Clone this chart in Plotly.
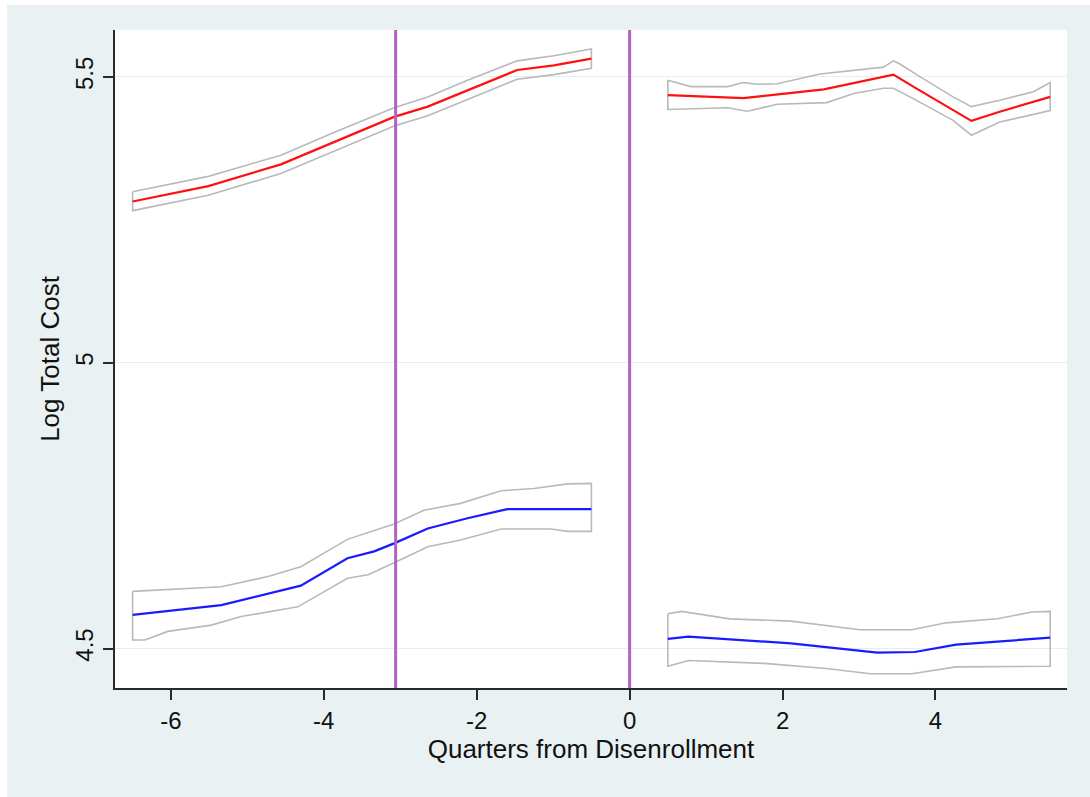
import plotly.graph_objects as go

# Smoothed log total cost by quarter, before and after disenrollment
# Group A (higher cost, red) and group B (lower cost, blue)

# --- Group A, pre-period ---
a_pre_x = [-6.5, -5.51, -4.56, -3.86, -3.08, -2.64, -2.12, -1.47, -0.99, -0.5]
a_pre_y = [5.282, 5.309, 5.347, 5.386, 5.430, 5.448, 5.477, 5.512, 5.520, 5.532]
a_pre_hi_y = [5.299, 5.326, 5.363, 5.403, 5.446, 5.465, 5.494, 5.528, 5.537, 5.549]
a_pre_lo_y = [5.266, 5.293, 5.331, 5.370, 5.414, 5.432, 5.461, 5.496, 5.504, 5.515]

# --- Group A, post-period ---
a_post_x = [0.5, 1.49, 2.54, 3.45, 3.71, 4.23, 4.47, 4.84, 5.5]
a_post_y = [5.468, 5.463, 5.478, 5.504, 5.483, 5.442, 5.423, 5.439, 5.465]
a_post_hi_x = [0.5, 0.80, 1.28, 1.49, 1.67, 1.93, 2.49, 3.02, 3.32, 3.45, 3.54, 3.80,
               4.23, 4.47, 4.84, 5.28, 5.5]
a_post_hi_y = [5.494, 5.483, 5.483, 5.490, 5.487, 5.488, 5.505, 5.512, 5.517, 5.528,
               5.522, 5.500, 5.465, 5.448, 5.459, 5.474, 5.490]
a_post_lo_x = [0.5, 1.28, 1.54, 1.93, 2.58, 2.93, 3.32, 3.45, 3.71, 4.23, 4.47, 4.84, 5.5]
a_post_lo_y = [5.443, 5.446, 5.440, 5.452, 5.455, 5.471, 5.480, 5.480, 5.462, 5.424,
               5.398, 5.421, 5.441]

# --- Group B, pre-period ---
b_pre_x = [-6.5, -5.34, -4.30, -3.69, -3.34, -3.08, -2.64, -2.12, -1.60, -0.5]
b_pre_y = [4.559, 4.576, 4.610, 4.658, 4.670, 4.684, 4.710, 4.728, 4.744, 4.744]
b_pre_hi_x = [-6.5, -6.04, -5.34, -4.73, -4.30, -3.69, -3.08, -2.69, -2.21, -1.68,
              -1.25, -0.81, -0.5]
b_pre_hi_y = [4.600, 4.603, 4.608, 4.626, 4.643, 4.691, 4.718, 4.742, 4.754, 4.776,
              4.780, 4.788, 4.789]
b_pre_lo_x = [-6.5, -6.34, -6.04, -5.47, -5.08, -4.34, -3.69, -3.42, -3.08, -2.64,
              -2.21, -1.68, -1.03, -0.81, -0.5]
b_pre_lo_y = [4.515, 4.515, 4.530, 4.541, 4.556, 4.573, 4.623, 4.629, 4.650, 4.678,
              4.690, 4.709, 4.709, 4.705, 4.705]

# --- Group B, post-period ---
b_post_x = [0.5, 0.77, 2.11, 3.24, 3.73, 4.27, 5.5]
b_post_y = [4.517, 4.521, 4.509, 4.493, 4.494, 4.507, 4.519]
b_post_hi_x = [0.5, 0.68, 1.31, 2.11, 3.01, 3.69, 4.14, 4.81, 5.26, 5.5]
b_post_hi_y = [4.561, 4.565, 4.552, 4.548, 4.533, 4.533, 4.545, 4.552, 4.564, 4.565]
b_post_lo_x = [0.5, 0.77, 1.76, 2.57, 3.15, 3.69, 4.27, 4.95, 5.5]
b_post_lo_y = [4.469, 4.479, 4.474, 4.465, 4.456, 4.456, 4.468, 4.469, 4.469]

# Reference lines (quarters)
vlines = [-3.06, 0]

x_ticks = [-6, -4, -2, 0, 2, 4]
y_ticks = [4.5, 5, 5.5]

RED = "#ff1010"
BLUE = "#1a1aff"
CI_GRAY = "#b9b9b9"
PURPLE = "#b362c4"
BG = "#e9f1f3"
FONT = "Liberation Sans, Arial, sans-serif"

fig = go.Figure()


def band(hx, hy, lx, ly):
    """Closed outline of a confidence band."""
    xs = list(hx) + list(reversed(lx)) + [hx[0]]
    ys = list(hy) + list(reversed(ly)) + [hy[0]]
    return go.Scatter(x=xs, y=ys, mode="lines", hoverinfo="skip",
                      line=dict(color=CI_GRAY, width=1.6), showlegend=False)


for hx, hy, lx, ly in [
    (a_pre_x, a_pre_hi_y, a_pre_x, a_pre_lo_y),
    (a_post_hi_x, a_post_hi_y, a_post_lo_x, a_post_lo_y),
    (b_pre_hi_x, b_pre_hi_y, b_pre_lo_x, b_pre_lo_y),
    (b_post_hi_x, b_post_hi_y, b_post_lo_x, b_post_lo_y),
]:
    fig.add_trace(band(hx, hy, lx, ly))

for xs, ys, col in [
    (a_pre_x, a_pre_y, RED),
    (a_post_x, a_post_y, RED),
    (b_pre_x, b_pre_y, BLUE),
    (b_post_x, b_post_y, BLUE),
]:
    fig.add_trace(go.Scatter(x=xs, y=ys, mode="lines",
                             line=dict(color=col, width=2.2), showlegend=False))

for v in vlines:
    fig.add_shape(type="line", xref="x", yref="paper", x0=v, x1=v, y0=0, y1=1,
                  line=dict(color=PURPLE, width=3), layer="above")

# thin white frame along the top and left edges of the page
W, H = 1090, 797
ML, MR, MT, MB = 115, 23, 30, 109
pw, ph = W - ML - MR, H - MT - MB
fig.add_shape(type="rect", xref="paper", yref="paper",
              x0=-ML / pw, x1=(W - ML) / pw, y0=1 + (MT - 5) / ph, y1=1 + MT / ph,
              fillcolor="white", line=dict(width=0), layer="above")
fig.add_shape(type="rect", xref="paper", yref="paper",
              x0=-ML / pw, x1=(7 - ML) / pw, y0=-MB / ph, y1=1 + MT / ph,
              fillcolor="white", line=dict(width=0), layer="above")

axis_common = dict(
    showline=True, linecolor="#2a2a2a", linewidth=2,
    ticks="outside", ticklen=10, tickwidth=1.5, tickcolor="#2a2a2a",
    zeroline=False, mirror=False,
    tickfont=dict(family=FONT, size=24, color="#111"),
)

fig.update_layout(
    width=W, height=H,
    margin=dict(l=ML, r=MR, t=MT, b=MB),
    paper_bgcolor=BG, plot_bgcolor="white",
    font=dict(family=FONT, color="#111"),
    showlegend=False,
    xaxis=dict(
        **axis_common,
        range=[-6.73, 5.72], tickvals=x_ticks,
        ticktext=[str(t) for t in x_ticks],
        showgrid=False,
        title=dict(text="Quarters from Disenrollment",
                   font=dict(family=FONT, size=26), standoff=5),
    ),
    yaxis=dict(
        **axis_common,
        range=[4.431, 5.582], tickvals=y_ticks,
        ticktext=["4.5", "5", "5.5"], tickangle=-90,
        showgrid=True, gridcolor="#e6eef0", gridwidth=1,
        title=dict(text="Log Total Cost",
                   font=dict(family=FONT, size=26), standoff=4),
    ),
)

fig.write_html("out.html")
